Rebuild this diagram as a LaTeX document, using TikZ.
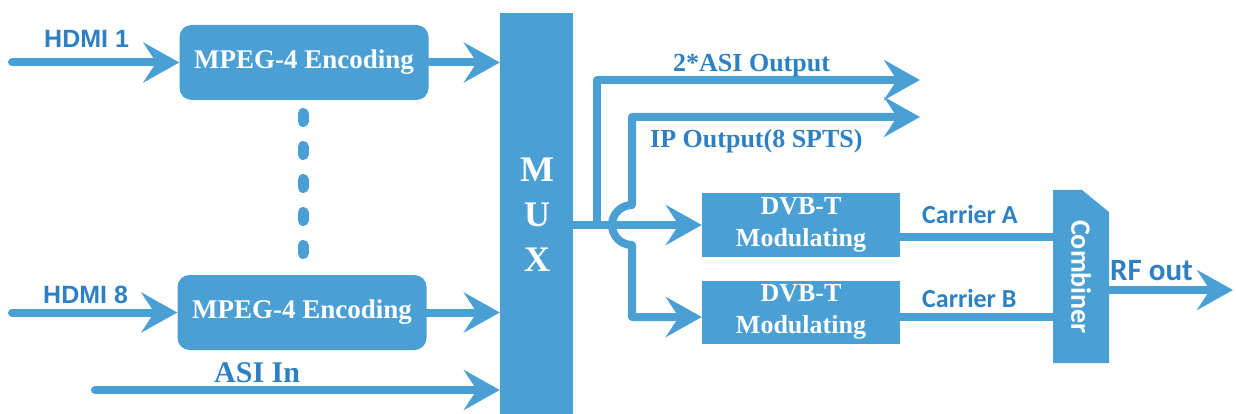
\documentclass[tikz,border=0pt]{standalone}
\usepackage{fontspec}
\setmainfont{Liberation Serif}
\newfontfamily\arialf{Liberation Sans}
\newfontfamily\calibf{Carlito}
\usetikzlibrary{arrows.meta}
\definecolor{bfill}{HTML}{4A9FD5}
\definecolor{btext}{HTML}{2E80C4}
\begin{document}
\begin{tikzpicture}[x=1pt,y=1pt,
  flow/.style={draw=bfill, line width=8pt, line cap=round, line join=round},
  tipend/.style={-{Stealth[length=36pt,width=40pt,inset=13pt]}},
  tipboth/.style={{Stealth[length=36pt,width=40pt,inset=13pt]}-{Stealth[length=36pt,width=40pt,inset=13pt]}},
  enc/.style={fill=bfill, rounded corners=12pt, minimum width=249pt, minimum height=75pt, inner sep=0pt, text=white, font=\bfseries\fontsize{27}{29}\selectfont},
  dvb/.style={fill=bfill, minimum width=198pt, minimum height=63pt, inner sep=0pt, text=white, align=center, font=\bfseries\fontsize{26}{32}\selectfont},
  muxl/.style={text=white, inner sep=0pt, font=\bfseries\fontsize{36}{38}\selectfont},
  slab/.style={text=btext, inner sep=0pt, anchor=base west, font=\arialf\bfseries\fontsize{25}{27}\selectfont},
  clab/.style={text=btext, inner sep=0pt, anchor=base west, font=\calibf\bfseries\fontsize{26}{28}\selectfont},
  rlab/.style={text=btext, inner sep=0pt, anchor=base west, font=\bfseries\fontsize{26}{28}\selectfont}
]
\useasboundingbox (0,0) rectangle (1236,-414);

% boxes
\node[enc] (e1) at (304,-62.5) {MPEG-4 Encoding};
\node[enc] (e8) at (302,-312.5) {MPEG-4 Encoding};
\node[fill=bfill, minimum width=73pt, minimum height=402pt, inner sep=0pt] (mux) at (536.5,-214) {};
\node[muxl] (mm) at (537,-170) {M};
\node[muxl] (mu) at (537,-215) {U};
\node[muxl] (mx) at (537,-260) {X};
\node[dvb] (d1) at (801,-225) {DVB-T\\Modulating};
\node[dvb] (d2) at (801,-312) {DVB-T\\Modulating};
\fill[bfill] (1053,-190) -- (1082,-190) -- (1109,-212) -- (1109,-363) -- (1053,-363) -- cycle;
\node[minimum width=56pt, minimum height=173pt, inner sep=0pt] (comb) at (1081,-276.5) {};
\node[rotate=-90, text=white, inner sep=0pt, font=\calibf\bfseries\fontsize{28}{30}\selectfont] (combt) at (1081,-277) {Combiner};

% dots
\draw[bfill, line width=11pt, line cap=round, dash pattern=on 8pt off 25pt] (303,-113.5) -- (303,-254);

% coordinates
\coordinate (h1) at (12,-62.5);
\coordinate (h8) at (12,-312.5);
\coordinate (asi) at (95,-390);
\coordinate (j1) at (597,-225);
\coordinate (o1) at (920,-80);
\coordinate (o2) at (920,-117);
\coordinate (ipc) at (632,-117);
\coordinate (rf) at (1233,-290);

% connectors
\draw[flow,tipend] (h1) -- (e1.west);
\draw[flow,tipend] (e1.east) -- (e1.east -| mux.west);
\draw[flow,tipend] (h8) -- (e8.west);
\draw[flow,tipend] (e8.east) -- (e8.east -| mux.west);
\draw[flow,tipend] (asi) -- (asi -| mux.west);
\draw[flow,tipend] (mux.east |- d1.west) -- (d1.west);
\draw[flow,tipend] (j1) -- (j1 |- o1) -- (o1);
\draw[flow,tipboth] (o2) -- (ipc) -- (632,-205) arc[start angle=90, end angle=270, radius=20] -- (632,-317) -- (d2.west |- 0,-317);
\draw[flow] (d1.east |- 0,-237) -- (comb.west |- 0,-237);
\draw[flow] (d2.east |- 0,-317) -- (comb.west |- 0,-317);
\draw[flow,tipend] (comb.east |- rf) -- (rf);

% labels
\node[slab] (lh1) at (44,-48) {HDMI 1};
\node[slab] (lh8) at (43,-303) {HDMI 8};
\node[rlab, font=\bfseries\fontsize{30}{32}\selectfont] (lasi) at (214,-382) {ASI In};
\node[rlab] (lao) at (673,-72) {2*ASI Output};
\node[rlab] (lip) at (650,-148) {IP Output(8 SPTS)};
\node[clab] (lca) at (922,-223) {Carrier A};
\node[clab] (lcb) at (922,-307) {Carrier B};
\node[clab, font=\calibf\bfseries\fontsize{31}{33}\selectfont] (lrf) at (1110,-280) {RF out};
\end{tikzpicture}
\end{document}
